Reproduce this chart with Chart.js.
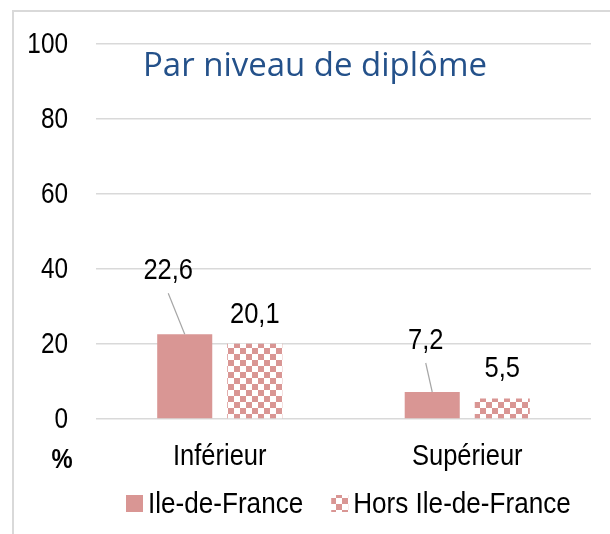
<!DOCTYPE html>
<html>
<head>
<meta charset="utf-8">
<script src="https://cdn.jsdelivr.net/npm/chart.js@4.4.1/dist/chart.umd.min.js"></script>
<style>
  html, body { margin: 0; padding: 0; background: #fff; }
  #wrap { position: relative; width: 610px; height: 534px; }
  #frame { position: absolute; left: 12px; top: 10px; right: 0; bottom: 0;
           border-left: 2px solid #D9D9D9; border-top: 2px solid #D9D9D9; }
  canvas { position: absolute; left: 0; top: 0; }
</style>
</head>
<body>
<div id="wrap">
  <div id="frame"></div>
  <canvas id="c" width="610" height="534"></canvas>
</div>
<script>
// ---- data ----
const categories = ['Inférieur', 'Supérieur'];
const seriesNames = ['Ile-de-France', 'Hors Ile-de-France'];
const idfValues = [22.6, 7.2];
const horsValues = [20.1, 5.5];
const yTicks = [0, 20, 40, 60, 80, 100];
const chartTitle = 'Par niveau de diplôme';
const unitLabel = '%';

// ---- style ----
const PINK = '#D99694';
const FONT = '"Liberation Sans", Arial, sans-serif';
const FS = 29;
const NARROW = 0.88;   // no Arial Narrow installed -> squeeze horizontally

function checker() {
  const p = document.createElement('canvas');
  p.width = 12; p.height = 12;
  const g = p.getContext('2d');
  g.fillStyle = '#fff'; g.fillRect(0, 0, 12, 12);
  g.fillStyle = PINK;
  g.fillRect(0, 0, 6, 6); g.fillRect(6, 6, 6, 6);
  return g.createPattern(p, 'repeat');
}
const ctx0 = document.getElementById('c').getContext('2d');
const checkPat = checker();

// label offsets (px) relative to bar top, per dataset / point
const labelOffsets = [[[-16.5, -63], [-6.5, -51]], [[0, -28.5], [0, -29.5]]];
const leaderLines = [true, false];

const fmt = v => v.toFixed(1).replace('.', ',');

// draw squeezed text (x is the anchor given by align)
function sText(ctx, txt, x, y, align, sx) {
  ctx.save();
  ctx.translate(x, y);
  ctx.scale(sx, 1);
  ctx.textAlign = align;
  ctx.fillText(txt, 0, 0);
  ctx.restore();
}

const overlay = {
  id: 'overlay',
  afterDatasetsDraw(chart) {
    const ctx = chart.ctx;
    const area = chart.chartArea;
    const xs = chart.scales.x, ys = chart.scales.y;
    ctx.save();
    ctx.font = FS + 'px ' + FONT;
    ctx.fillStyle = '#000';

    // y tick labels
    ctx.textBaseline = 'middle';
    ys.ticks.forEach(t => {
      sText(ctx, String(t.value), 68, ys.getPixelForValue(t.value) + 1, 'right', 0.84);
    });
    // x tick labels
    ctx.textBaseline = 'alphabetic';
    categories.forEach((c, i) => {
      sText(ctx, c, xs.getPixelForTick(i), 465, 'center', NARROW);
    });

    // data labels
    ctx.textBaseline = 'middle';
    chart.data.datasets.forEach((ds, di) => {
      chart.getDatasetMeta(di).data.forEach((bar, i) => {
        const [dx, dy] = labelOffsets[di][i];
        const lx = bar.x + dx, ly = bar.y + dy;
        if (leaderLines[di]) {
          ctx.strokeStyle = '#A6A6A6';
          ctx.lineWidth = 1.2;
          ctx.beginPath();
          ctx.moveTo(bar.x, bar.y);
          ctx.lineTo(lx, ly + 22);
          ctx.stroke();
        }
        sText(ctx, fmt(ds.data[i]), lx, ly, 'center', NARROW);
      });
    });

    // title inside plot
    ctx.fillStyle = '#24518A';
    ctx.textBaseline = 'alphabetic';
    ctx.font = '33px "Open Sans", "Noto Sans", sans-serif';
    const w = ctx.measureText(chartTitle).width;
    sText(ctx, chartTitle, area.left + 47, area.top + 32, 'left', 344 / w);

    // unit label
    ctx.fillStyle = '#000';
    ctx.font = 'bold 27px ' + FONT;
    sText(ctx, unitLabel, 62, 468, 'center', NARROW);

    // legend
    ctx.font = FS + 'px ' + FONT;
    ctx.textBaseline = 'middle';
    const LSX = 0.9;
    let x = 126;
    const yMid = 503.5;
    chart.data.datasets.forEach(ds => {
      ctx.fillStyle = ds.backgroundColor;
      ctx.fillRect(x, yMid - 8.5, 17, 17);
      ctx.fillStyle = '#000';
      sText(ctx, ds.label, x + 22, yMid + 1, 'left', LSX);
      x += 22 + ctx.measureText(ds.label).width * LSX + 28;
    });
    ctx.restore();
  }
};

new Chart(document.getElementById('c'), {
  type: 'bar',
  data: {
    labels: categories,
    datasets: [
      { label: seriesNames[0], data: idfValues, backgroundColor: PINK },
      { label: seriesNames[1], data: horsValues, backgroundColor: checkPat }
    ]
  },
  options: {
    responsive: false,
    animation: false,
    events: [],
    categoryPercentage: 0.566,
    barPercentage: 0.786,
    layout: { padding: { left: 0, right: 19, top: 44, bottom: 0 } },
    plugins: { legend: { display: false }, tooltip: { enabled: false } },
    scales: {
      x: {
        grid: { display: false },
        border: { display: false },
        ticks: { display: false },
        afterFit(s) { s.height = 115; }
      },
      y: {
        min: 0, max: 100,
        afterBuildTicks(s) { s.ticks = yTicks.map(v => ({ value: v })); },
        grid: { color: '#D9D9D9', lineWidth: 1.5, drawTicks: false },
        border: { display: false },
        ticks: { display: false },
        afterFit(s) { s.width = 96; }
      }
    }
  },
  plugins: [overlay]
});
</script>
</body>
</html>
